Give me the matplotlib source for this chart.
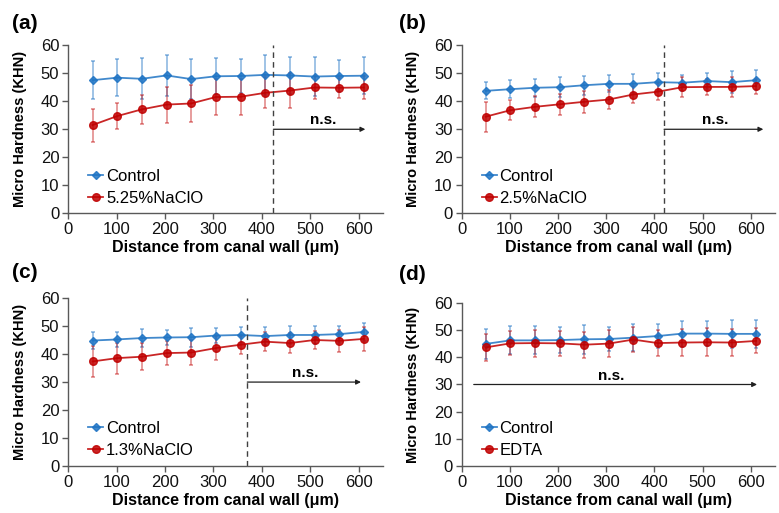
import matplotlib.pyplot as plt

plt.rcParams['font.family'] = ['Liberation Sans', 'DejaVu Sans']

# distances from canal wall (um)
dist = [50, 101, 152, 203, 254, 305, 356, 407, 458, 509, 560, 611]

# control series per panel
ctrl_a = [47.5, 48.4, 48.0, 49.2, 47.9, 48.9, 49.0, 49.4, 49.2, 48.8, 49.0, 49.1]
ctrl_a_err = [6.8, 6.7, 7.3, 7.4, 7.0, 6.4, 6.2, 7.1, 6.7, 6.8, 5.8, 6.5]
ctrl_b = [43.7, 44.3, 44.8, 45.0, 45.7, 46.2, 46.2, 46.8, 46.6, 47.2, 46.8, 47.5]
ctrl_b_err = [3.0, 3.2, 3.3, 3.5, 3.3, 3.0, 3.4, 3.3, 2.8, 2.9, 4.0, 3.6]
ctrl_c = [44.9, 45.3, 45.8, 46.0, 46.1, 46.7, 46.9, 46.5, 46.9, 46.9, 47.2, 48.0]
ctrl_c_err = [3.2, 2.6, 3.2, 2.7, 3.4, 2.6, 3.0, 3.2, 3.2, 3.1, 3.0, 3.2]
ctrl_d = [45.0, 46.3, 46.3, 46.4, 46.7, 46.8, 47.3, 47.9, 48.8, 48.8, 48.7, 48.7]
ctrl_d_err = [5.5, 5.2, 5.2, 4.7, 5.3, 4.5, 5.0, 4.6, 4.8, 4.6, 5.3, 5.2]

# treatment series per panel
trt_a = [31.5, 34.7, 37.1, 38.8, 39.2, 41.5, 41.6, 43.0, 43.8, 44.9, 44.8, 44.9]
trt_a_err = [5.9, 4.7, 5.3, 6.4, 6.5, 6.4, 6.5, 5.5, 6.3, 4.0, 3.5, 4.2]
trt_b = [34.5, 36.8, 38.0, 38.9, 39.8, 40.6, 42.4, 43.4, 45.0, 45.1, 45.1, 45.4]
trt_b_err = [5.3, 3.5, 3.8, 3.7, 4.0, 3.5, 3.0, 3.0, 3.5, 3.0, 3.6, 2.7]
trt_c = [37.4, 38.6, 39.1, 40.4, 40.6, 42.2, 43.4, 44.5, 44.0, 45.1, 44.8, 45.5]
trt_c_err = [5.4, 5.6, 4.8, 4.4, 4.6, 4.4, 3.3, 3.5, 3.7, 3.4, 3.9, 4.4]
trt_d = [43.7, 45.2, 45.3, 45.2, 44.7, 45.1, 46.6, 45.3, 45.5, 45.6, 45.5, 46.1]
trt_d_err = [5.0, 4.4, 5.0, 4.6, 4.8, 5.0, 4.6, 4.7, 5.0, 5.1, 5.0, 4.6]

labels = ['(a)', '(b)', '(c)', '(d)']
trt_names = ['5.25%NaClO', '2.5%NaClO', '1.3%NaClO', 'EDTA']
# n.s. region: dashed line x, arrow start, arrow end, text x
ns_line = [424, 420, 370, None]
ns_start = [424, 420, 370, 25]
ns_end = [614, 626, 605, 613]
ns_text = [527, 526, 490, 310]

panels = [
    (ctrl_a, ctrl_a_err, trt_a, trt_a_err),
    (ctrl_b, ctrl_b_err, trt_b, trt_b_err),
    (ctrl_c, ctrl_c_err, trt_c, trt_c_err),
    (ctrl_d, ctrl_d_err, trt_d, trt_d_err),
]

# axes rectangles in figure fraction
rects = [
    [0.0877, 0.584, 0.4036, 0.328],
    [0.5927, 0.584, 0.4020, 0.328],
    [0.0877, 0.0922, 0.4036, 0.326],
    [0.5927, 0.0922, 0.4020, 0.3166],
]
label_pos = [(0.015, 0.972), (0.512, 0.972), (0.015, 0.487), (0.512, 0.484)]

blue = '#1f74c4'
red = '#c00000'
gray = '#595959'

fig = plt.figure(figsize=(7.79, 5.13), dpi=100)

for i, (c, ce, t, te) in enumerate(panels):
    ax = fig.add_axes(rects[i])
    ax.errorbar(dist, c, yerr=ce, fmt='none', ecolor=blue, alpha=0.5,
                elinewidth=1.2, capsize=1.5, capthick=1.2)
    ax.errorbar(dist, t, yerr=te, fmt='none', ecolor=red, alpha=0.45,
                elinewidth=1.2, capsize=1.5, capthick=1.2)
    l1, = ax.plot(dist, c, color=blue, lw=1.3, marker='D', ms=4.5,
                  markerfacecolor=blue, markeredgecolor=blue)
    l2, = ax.plot(dist, t, color=red, lw=1.3, marker='o', ms=5.5,
                  markerfacecolor=red, markeredgecolor=red)
    l1.set_alpha(0.85)
    l2.set_alpha(0.85)

    if ns_line[i] is not None:
        ax.plot([ns_line[i], ns_line[i]], [0, 60], color='#404040', lw=1,
                ls=(0, (4, 3)))
    ax.annotate('', xy=(ns_end[i], 30), xytext=(ns_start[i], 30),
                arrowprops=dict(arrowstyle='-|>', color='#202020', lw=0.9,
                                mutation_scale=7, shrinkA=0, shrinkB=0))
    ax.text(ns_text[i], 31.8, 'n.s.', ha='center', va='baseline',
            fontsize=11, fontweight='bold')

    ax.set_xlim(0, 650)
    ax.set_ylim(0, 60)
    ax.set_xticks(range(0, 601, 100))
    ax.set_yticks(range(0, 61, 10))
    for s in ['top', 'right']:
        ax.spines[s].set_visible(False)
    for s in ['left', 'bottom']:
        ax.spines[s].set_color(gray)
        ax.spines[s].set_linewidth(1)
    ax.tick_params(direction='out', length=4, width=1, color=gray,
                   labelsize=12, labelcolor='#111111', pad=2.5)
    ax.set_xlabel('Distance from canal wall (μm)', fontsize=11.5,
                  fontweight='bold', labelpad=2)
    ax.set_ylabel('Micro Hardness (KHN)', fontsize=10.5, fontweight='bold',
                  labelpad=10)
    ax.legend([l1, l2], ['Control', trt_names[i]], loc='lower left',
              bbox_to_anchor=(0.04, 0.0), frameon=False, fontsize=12,
              handlelength=0.9, handletextpad=0.15, borderaxespad=0.05,
              labelspacing=0.42)

    fig.text(label_pos[i][0], label_pos[i][1], labels[i], fontsize=15,
             fontweight='bold', va='top', ha='left')

fig.savefig('out.png', dpi=100)
